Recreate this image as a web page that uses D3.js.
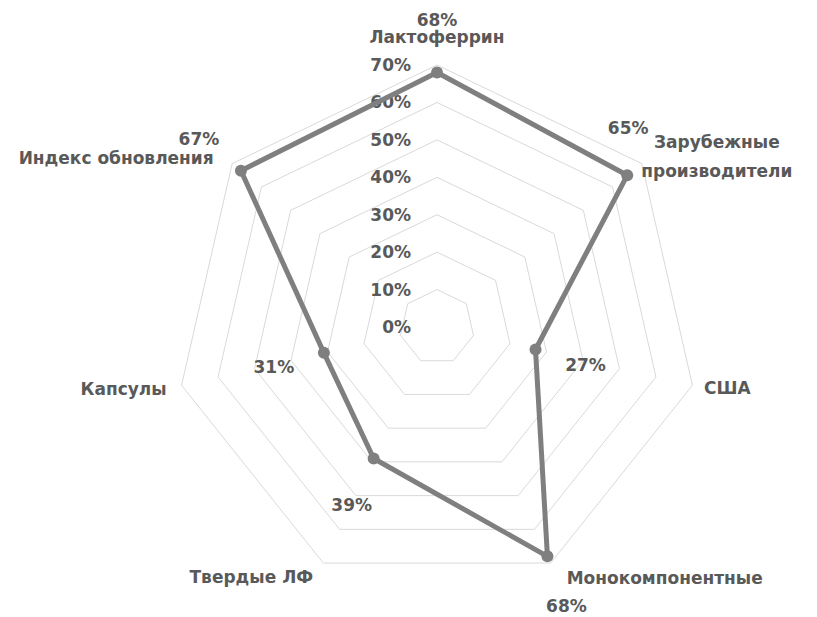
<!DOCTYPE html>
<html>
<head>
<meta charset="utf-8">
<script src="https://cdn.jsdelivr.net/npm/d3@7"></script>
<style>
  body { margin: 0; background: #fff; }
  text { font-family: "DejaVu Sans", sans-serif; font-weight: bold; fill: #595959; }
</style>
</head>
<body>
<svg id="chart" width="817" height="617"></svg>
<script>
// categories, clockwise from the top
const categories = ["Лактоферрин", "Зарубежные производители", "США", "Монокомпонентные",
                    "Твердые ЛФ", "Капсулы", "Индекс обновления"];
const values = [0.68, 0.65, 0.27, 0.68, 0.39, 0.31, 0.67];
const ticks = [0, 0.1, 0.2, 0.3, 0.4, 0.5, 0.6, 0.7];

// label placement relative to point / outer ring (dx, dy)
const valueOffsets = [[0, -52], [1, -47], [50, 16], [19, 50], [-22, 47], [-50, 14], [-42, -32]];
const catLines = [["Лактоферрин"], ["Зарубежные", "производители"], ["США"], ["Монокомпонентные"],
                  ["Твердые ЛФ"], ["Капсулы"], ["Индекс обновления"]];
const catOffsets = [[0, -28], [75, -7], [35, 3], [114, 15], [-72, 14], [-58, 4], [-116, -6]];

const svg = d3.select("#chart");
const cx = 437, cy = 327;
const r = d3.scaleLinear().domain([0, 0.7]).range([0, 262]);
const n = categories.length;
const angle = i => i * 2 * Math.PI / n;
const pt = (i, v) => [cx + r(v) * Math.sin(angle(i)), cy - r(v) * Math.cos(angle(i))];

// rings
const g = svg.append("g");
g.selectAll("polygon.ring")
  .data(ticks.slice(1))
  .join("polygon")
  .attr("class", "ring")
  .attr("points", t => d3.range(n).map(i => pt(i, t).join(",")).join(" "))
  .attr("fill", "none")
  .attr("stroke", "#d9d9d9")
  .attr("stroke-width", 1);

// ring labels
g.selectAll("text.tick")
  .data(ticks)
  .join("text")
  .attr("class", "tick")
  .attr("x", cx - 26)
  .attr("y", t => cy - r(t))
  .attr("dy", "0.35em")
  .attr("text-anchor", "end")
  .style("font-size", "17px")
  .text(d3.format(".0%"));

// series
const line = d3.line().curve(d3.curveLinearClosed);
const pts = values.map((v, i) => pt(i, v));
g.append("path")
  .attr("d", line(pts))
  .attr("fill", "none")
  .attr("stroke", "#7f7f7f")
  .attr("stroke-width", 5)
  .attr("stroke-linejoin", "round");
g.selectAll("circle")
  .data(pts)
  .join("circle")
  .attr("cx", d => d[0]).attr("cy", d => d[1])
  .attr("r", 6)
  .attr("fill", "#7f7f7f");

// value labels
g.selectAll("text.val")
  .data(values)
  .join("text")
  .attr("class", "val")
  .attr("x", (v, i) => pts[i][0] + valueOffsets[i][0])
  .attr("y", (v, i) => pts[i][1] + valueOffsets[i][1])
  .attr("dy", "0.35em")
  .attr("text-anchor", "middle")
  .style("font-size", "17px")
  .text(d3.format(".0%"));

// category labels
const outer = d3.range(n).map(i => pt(i, 0.7));
const cats = g.selectAll("text.cat")
  .data(catLines)
  .join("text")
  .attr("class", "cat")
  .attr("text-anchor", "middle")
  .style("font-size", "17px")
  .attr("transform", (d, i) => "translate(" + (outer[i][0] + catOffsets[i][0]) + "," + (outer[i][1] + catOffsets[i][1]) + ")");
cats.selectAll("tspan")
  .data(d => d)
  .join("tspan")
  .attr("x", 0)
  .attr("y", (d, j, all) => (j - (all.length - 1) / 2) * 29)
  .attr("dy", "0.35em")
  .text(d => d);
</script>
</body>
</html>
